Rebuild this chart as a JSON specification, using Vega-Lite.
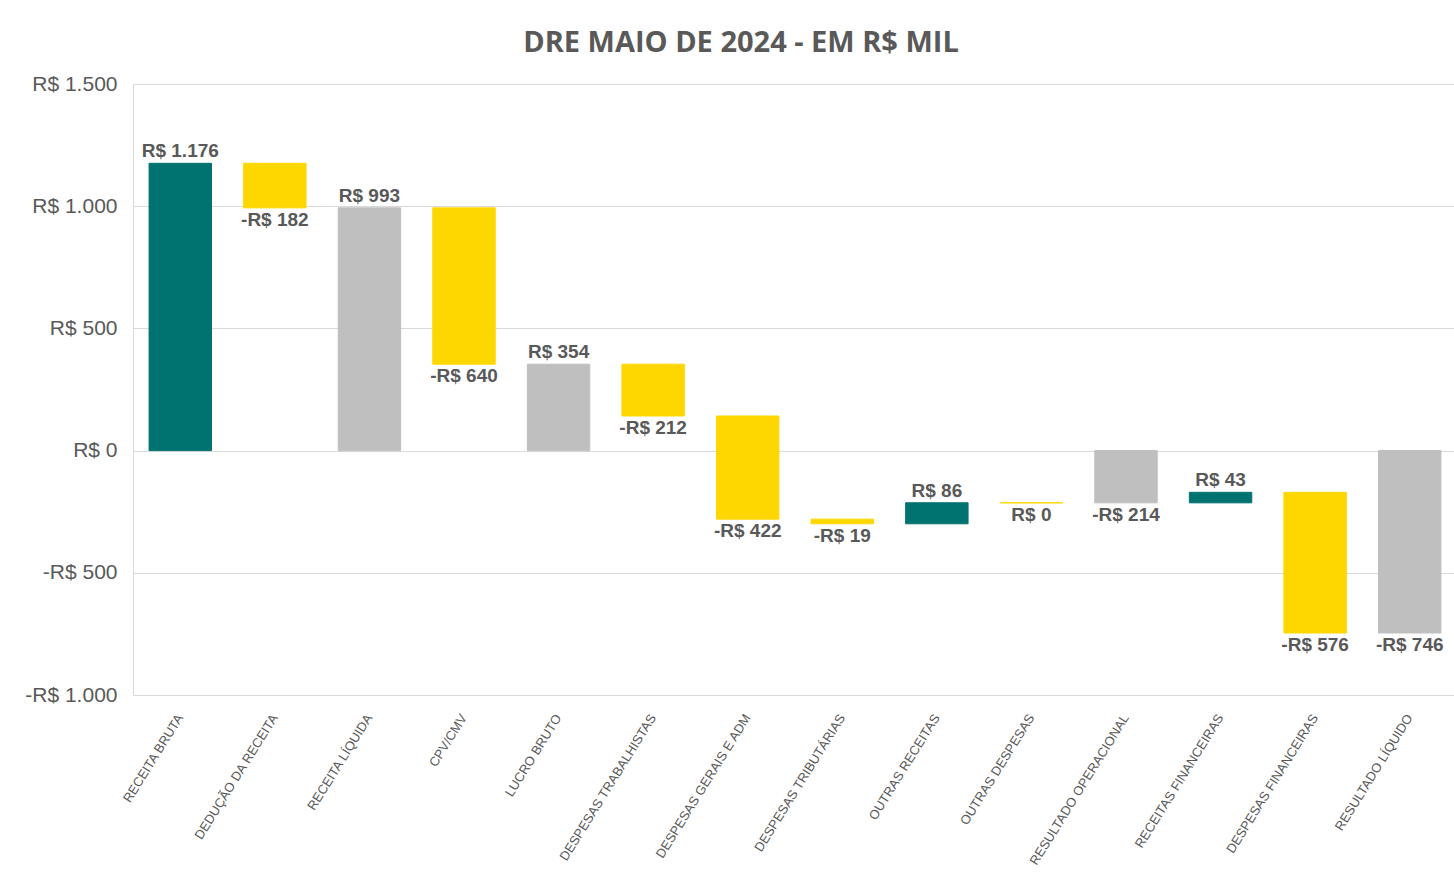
{
  "$schema": "https://vega.github.io/schema/vega-lite/v6.json",
  "width": 1324,
  "height": 611,
  "autosize": {"type": "none"},
  "padding": {"left": 133, "top": 84, "right": 0, "bottom": 189},
  "background": "white",
  "config": {
    "locale": {"number": {"decimal": ",", "thousands": ".", "grouping": [3], "currency": ["R$ ", ""], "minus": "-"}},
    "view": {"stroke": null},
    "font": "Liberation Sans"
  },
  "title": {
    "text": "DRE MAIO DE 2024 - EM R$ MIL",
    "font": "Open Sans",
    "fontSize": 29,
    "fontWeight": "bold",
    "color": "#595959",
    "anchor": "middle",
    "dx": -54,
    "offset": 15
  },
  "data": {
    "values": [
      {"conta": "RECEITA BRUTA", "inicio": 0, "fim": 1175.6, "valor": 1175.6, "tipo": "aumento"},
      {"conta": "DEDUÇÃO DA RECEITA", "inicio": 1175.6, "fim": 993.2, "valor": -182.4, "tipo": "reducao"},
      {"conta": "RECEITA LÍQUIDA", "inicio": 0, "fim": 993.2, "valor": 993.2, "tipo": "total"},
      {"conta": "CPV/CMV", "inicio": 993.2, "fim": 353.6, "valor": -639.6, "tipo": "reducao"},
      {"conta": "LUCRO BRUTO", "inicio": 0, "fim": 353.6, "valor": 353.6, "tipo": "total"},
      {"conta": "DESPESAS TRABALHISTAS", "inicio": 353.6, "fim": 141.6, "valor": -212, "tipo": "reducao"},
      {"conta": "DESPESAS GERAIS E ADM", "inicio": 141.6, "fim": -280.4, "valor": -422, "tipo": "reducao"},
      {"conta": "DESPESAS TRIBUTÁRIAS", "inicio": -280.4, "fim": -299.4, "valor": -19, "tipo": "reducao"},
      {"conta": "OUTRAS RECEITAS", "inicio": -299.4, "fim": -213.4, "valor": 86, "tipo": "aumento"},
      {"conta": "OUTRAS DESPESAS", "inicio": -213.4, "fim": -213.7, "valor": -0.3, "tipo": "reducao"},
      {"conta": "RESULTADO OPERACIONAL", "inicio": 0, "fim": -213.7, "valor": -213.7, "tipo": "total"},
      {"conta": "RECEITAS FINANCEIRAS", "inicio": -213.7, "fim": -170.7, "valor": 43, "tipo": "aumento"},
      {"conta": "DESPESAS FINANCEIRAS", "inicio": -170.7, "fim": -746.3, "valor": -575.6, "tipo": "reducao"},
      {"conta": "RESULTADO LÍQUIDO", "inicio": 0, "fim": -746.3, "valor": -746.3, "tipo": "total"}
    ]
  },
  "encoding": {
    "x": {
      "field": "conta",
      "type": "nominal",
      "sort": null,
      "scale": {"paddingInner": 0.34, "paddingOuter": 0.17},
      "axis": {
        "title": null,
        "labelAngle": -58,
        "labelFontSize": 13,
        "labelColor": "#595959",
        "labelFont": "Liberation Sans",
        "ticks": false,
        "domain": false,
        "labelPadding": 20,
        "labelLimit": 400
      }
    }
  },
  "layer": [
    {
      "mark": {"type": "bar", "strokeWidth": 1},
      "encoding": {
        "y": {
          "field": "inicio",
          "type": "quantitative",
          "scale": {"domain": [-1000, 1500], "nice": false},
          "axis": {
            "title": null,
            "values": [-1000, -500, 0, 500, 1000, 1500],
            "format": "$,.0f",
            "labelFontSize": 21,
            "labelColor": "#595959",
            "labelFont": "Liberation Sans",
            "ticks": false,
            "domainColor": "#d9d9d9",
            "gridColor": "#d9d9d9",
            "gridOpacity": 1,
            "labelPadding": 16
          }
        },
        "y2": {"field": "fim"},
        "color": {
          "field": "tipo",
          "type": "nominal",
          "scale": {"domain": ["aumento", "reducao", "total"], "range": ["#007370", "#FFD700", "#BFBFBF"]},
          "legend": null
        },
        "stroke": {
          "field": "tipo",
          "type": "nominal",
          "scale": {"domain": ["aumento", "reducao", "total"], "range": ["#007370", "#FFD700", "#BFBFBF"]},
          "legend": null
        }
      }
    },
    {
      "transform": [{"filter": "datum.valor > 0"}],
      "mark": {"type": "text", "baseline": "bottom", "dy": -2, "fontWeight": "bold", "fontSize": 19, "color": "#595959"},
      "encoding": {
        "y": {"field": "fim", "type": "quantitative"},
        "text": {"field": "valor", "type": "quantitative", "format": "$,.0f"}
      }
    },
    {
      "transform": [{"filter": "datum.valor <= 0"}],
      "mark": {"type": "text", "baseline": "top", "dy": 3, "fontWeight": "bold", "fontSize": 19, "color": "#595959"},
      "encoding": {
        "y": {"field": "fim", "type": "quantitative"},
        "text": {"field": "valor", "type": "quantitative", "format": "$,.0f"}
      }
    }
  ]
}
